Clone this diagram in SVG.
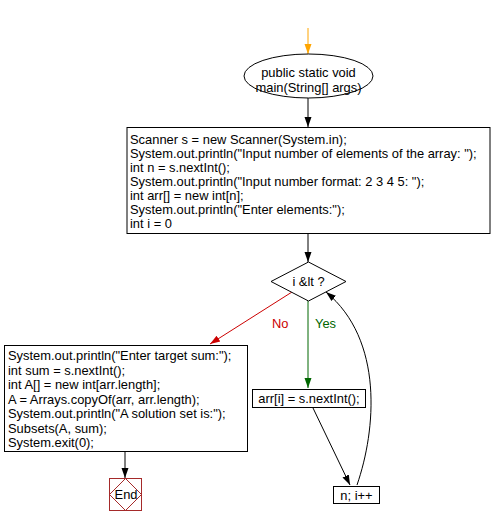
<svg xmlns="http://www.w3.org/2000/svg" width="493" height="526" viewBox="0 0 493 526">
<style>
text{font-family:"Liberation Sans",Arial,sans-serif;font-size:12.9px;fill:#000}
.box{fill:#fff;stroke:#000;stroke-width:1}
.c{stroke:#000;fill:none;stroke-width:1}
.mid{text-anchor:middle}
</style>
<defs>
<marker id="ab" viewBox="0 0 10 10" refX="10" refY="5" markerWidth="10" markerHeight="10" markerUnits="userSpaceOnUse" orient="auto"><path d="M0,1.5 L10,5 L0,8.5 z" fill="#000"/></marker>
<marker id="ao" viewBox="0 0 10 10" refX="10" refY="5" markerWidth="10" markerHeight="10" markerUnits="userSpaceOnUse" orient="auto"><path d="M0,1.5 L10,5 L0,8.5 z" fill="#ffa500"/></marker>
<marker id="ar" viewBox="0 0 10 10" refX="10" refY="5" markerWidth="10" markerHeight="10" markerUnits="userSpaceOnUse" orient="auto"><path d="M0,1.5 L10,5 L0,8.5 z" fill="#cc0000"/></marker>
<marker id="ag" viewBox="0 0 10 10" refX="10" refY="5" markerWidth="10" markerHeight="10" markerUnits="userSpaceOnUse" orient="auto"><path d="M0,1.5 L10,5 L0,8.5 z" fill="#006600"/></marker>
</defs>
<g id="connectors">
<line x1="308" y1="28" x2="308" y2="54" stroke="#ffa500" marker-end="url(#ao)"/>
<line class="c" x1="308" y1="98" x2="308" y2="127" marker-end="url(#ab)"/>
<line class="c" x1="308" y1="233" x2="308" y2="262" marker-end="url(#ab)"/>
<line x1="292" y1="292" x2="210" y2="344" stroke="#cc0000" marker-end="url(#ar)"/>
<text x="272" y="328" style="fill:#cc0000">No</text>
<line x1="308" y1="301" x2="308" y2="388" stroke="#006600" marker-end="url(#ag)"/>
<text x="315" y="328" style="fill:#006600">Yes</text>
<line class="c" x1="313" y1="408" x2="350" y2="485" marker-end="url(#ab)"/>
<path class="c" d="M357,485 C376,430 384,340 326,292" marker-end="url(#ab)"/>
<line class="c" x1="125" y1="452" x2="125" y2="478" marker-end="url(#ab)"/>
</g>
<g id="start">
<ellipse cx="308.5" cy="76" rx="64.5" ry="22" class="box"/>
<text x="308.5" y="77" class="mid">public static void</text>
<text x="308.5" y="92" class="mid">main(String[] args)</text>
</g>
<g id="init">
<rect x="127" y="127.5" width="363" height="106" class="box"/>
<text x="130" y="144">Scanner s = new Scanner(System.in);</text>
<text x="130" y="158">System.out.println("Input number of elements of the array: ");</text>
<text x="130" y="172">int n = s.nextInt();</text>
<text x="130" y="186">System.out.println("Input number format: 2 3 4 5: ");</text>
<text x="130" y="200">int arr[] = new int[n];</text>
<text x="130" y="214">System.out.println("Enter elements:");</text>
<text x="130" y="228">int i = 0</text>
</g>
<g id="decision">
<polygon points="308.5,262 346,281.5 308.5,301 271,281.5" class="box"/>
<text x="308.5" y="286" class="mid">i &amp;lt ?</text>
</g>
<g id="read">
<rect x="252.5" y="389.5" width="113" height="18" class="box"/>
<text x="309" y="403" class="mid">arr[i] = s.nextInt();</text>
</g>
<g id="incr">
<rect x="333.5" y="486.5" width="46" height="17" class="box"/>
<text x="356.5" y="500" class="mid">n; i++</text>
</g>
<g id="after">
<rect x="4.5" y="345.5" width="243" height="106" class="box"/>
<text x="8" y="360">System.out.println("Enter target sum:");</text>
<text x="8" y="374.5">int sum = s.nextInt();</text>
<text x="8" y="389">int A[] = new int[arr.length];</text>
<text x="8" y="403.5">A = Arrays.copyOf(arr, arr.length);</text>
<text x="8" y="418">System.out.println("A solution set is:");</text>
<text x="8" y="432.5">Subsets(A, sum);</text>
<text x="8" y="447">System.exit(0);</text>
</g>
<g id="end">
<rect x="109.5" y="478.5" width="32" height="32" fill="#fff" stroke="#a52a2a"/>
<polygon points="125.5,478.5 141.5,494.5 125.5,510.5 109.5,494.5" fill="none" stroke="#a52a2a"/>
<text x="126" y="499" class="mid">End</text>
</g>
</svg>
